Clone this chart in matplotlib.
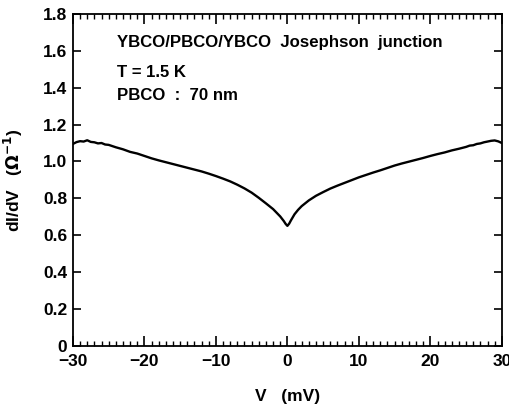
import matplotlib
matplotlib.use('Agg')
import matplotlib.pyplot as plt
from matplotlib.ticker import MultipleLocator

# voltage (mV) and differential conductance (1/Ohm)
v_mv = [-30, -29.5, -29, -28.5, -28, -27.5, -27, -26.5, -26, -25.5, -25, -24, -23, -22, -21,
        -20, -19, -18, -17, -16, -15, -14, -13, -12, -11, -10, -9, -8, -7,
        -6, -5, -4, -3, -2, -1.5, -1, -0.5, -0.25, 0, 0.25, 0.5, 1, 1.5,
        2, 3, 4, 5, 6, 7, 8, 9, 10, 11, 12, 13, 14, 15, 16, 17, 18, 19,
        20, 21, 22, 23, 24, 25, 25.5, 26, 26.5, 27, 27.5, 28, 28.5, 29, 29.5, 30]
didv = [1.095, 1.105, 1.11, 1.108, 1.115, 1.106, 1.104, 1.098, 1.1, 1.092, 1.09, 1.077, 1.066, 1.052, 1.043,
        1.03, 1.017, 1.006, 0.996, 0.986, 0.976, 0.966, 0.956, 0.946, 0.934, 0.921, 0.907, 0.892, 0.874,
        0.854, 0.831, 0.803, 0.773, 0.742, 0.722, 0.702, 0.677, 0.662, 0.651, 0.663, 0.681, 0.714, 0.738,
        0.758, 0.789, 0.814, 0.834, 0.853, 0.869, 0.884, 0.899, 0.914, 0.927, 0.94, 0.952, 0.965, 0.978, 0.989, 0.999, 1.009, 1.019,
        1.03, 1.04, 1.049, 1.06, 1.069, 1.079, 1.086, 1.088, 1.095, 1.098, 1.104, 1.108, 1.112, 1.114, 1.109, 1.1]

plt.rcParams['font.family'] = ['Liberation Sans', 'DejaVu Sans']
plt.rcParams['font.weight'] = 'bold'

fig = plt.figure(figsize=(5.1, 4.08), dpi=100)
ax = fig.add_axes([0.143, 0.152, 0.841, 0.814])

ax.plot(v_mv, didv, color='black', lw=1.7)

ax.set_xlim(-30, 30)
ax.set_ylim(0, 1.8)
ax.xaxis.set_minor_locator(MultipleLocator(1))
ax.set_yticks([0, 0.2, 0.4, 0.6, 0.8, 1.0, 1.2, 1.4, 1.6, 1.8])
ax.set_yticklabels(['0', '0.2', '0.4', '0.6', '0.8', '1.0', '1.2', '1.4', '1.6', '1.8'])
ax.set_xticks([-30, -20, -10, 0, 10, 20, 30])
ax.set_xticklabels(['\u221230', '\u221220', '\u221210', '0', '10', '20', '30'])

ax.tick_params(which='major', direction='in', length=7, width=1.2, top=True, right=True,
               labelsize=12.5)
ax.tick_params(axis='x', which='major', pad=6)
ax.tick_params(axis='y', which='major', length=6, pad=4)
ax.tick_params(which='minor', direction='in', length=3.5, width=1.0, top=True, right=False)
for lab in ax.get_xticklabels() + ax.get_yticklabels():
    lab.set_fontweight('bold')
for sp in ax.spines.values():
    sp.set_linewidth(1.3)

ax.set_xlabel('V   (mV)', fontsize=12.5, fontweight='bold', labelpad=14)
ax.set_ylabel('dI/dV   ($\\mathbf{\\Omega^{-1}}$)', fontsize=12.5, fontweight='bold', labelpad=13)

ax.text(-23.9, 1.622, 'YBCO/PBCO/YBCO  Josephson  junction', fontsize=12.1, fontweight='bold', va='baseline')
ax.text(-23.9, 1.459, 'T = 1.5 K', fontsize=12.1, fontweight='bold', va='baseline')
ax.text(-23.9, 1.334, 'PBCO  :  70 nm', fontsize=12.1, fontweight='bold', va='baseline')

fig.savefig('out.png', dpi=100)
